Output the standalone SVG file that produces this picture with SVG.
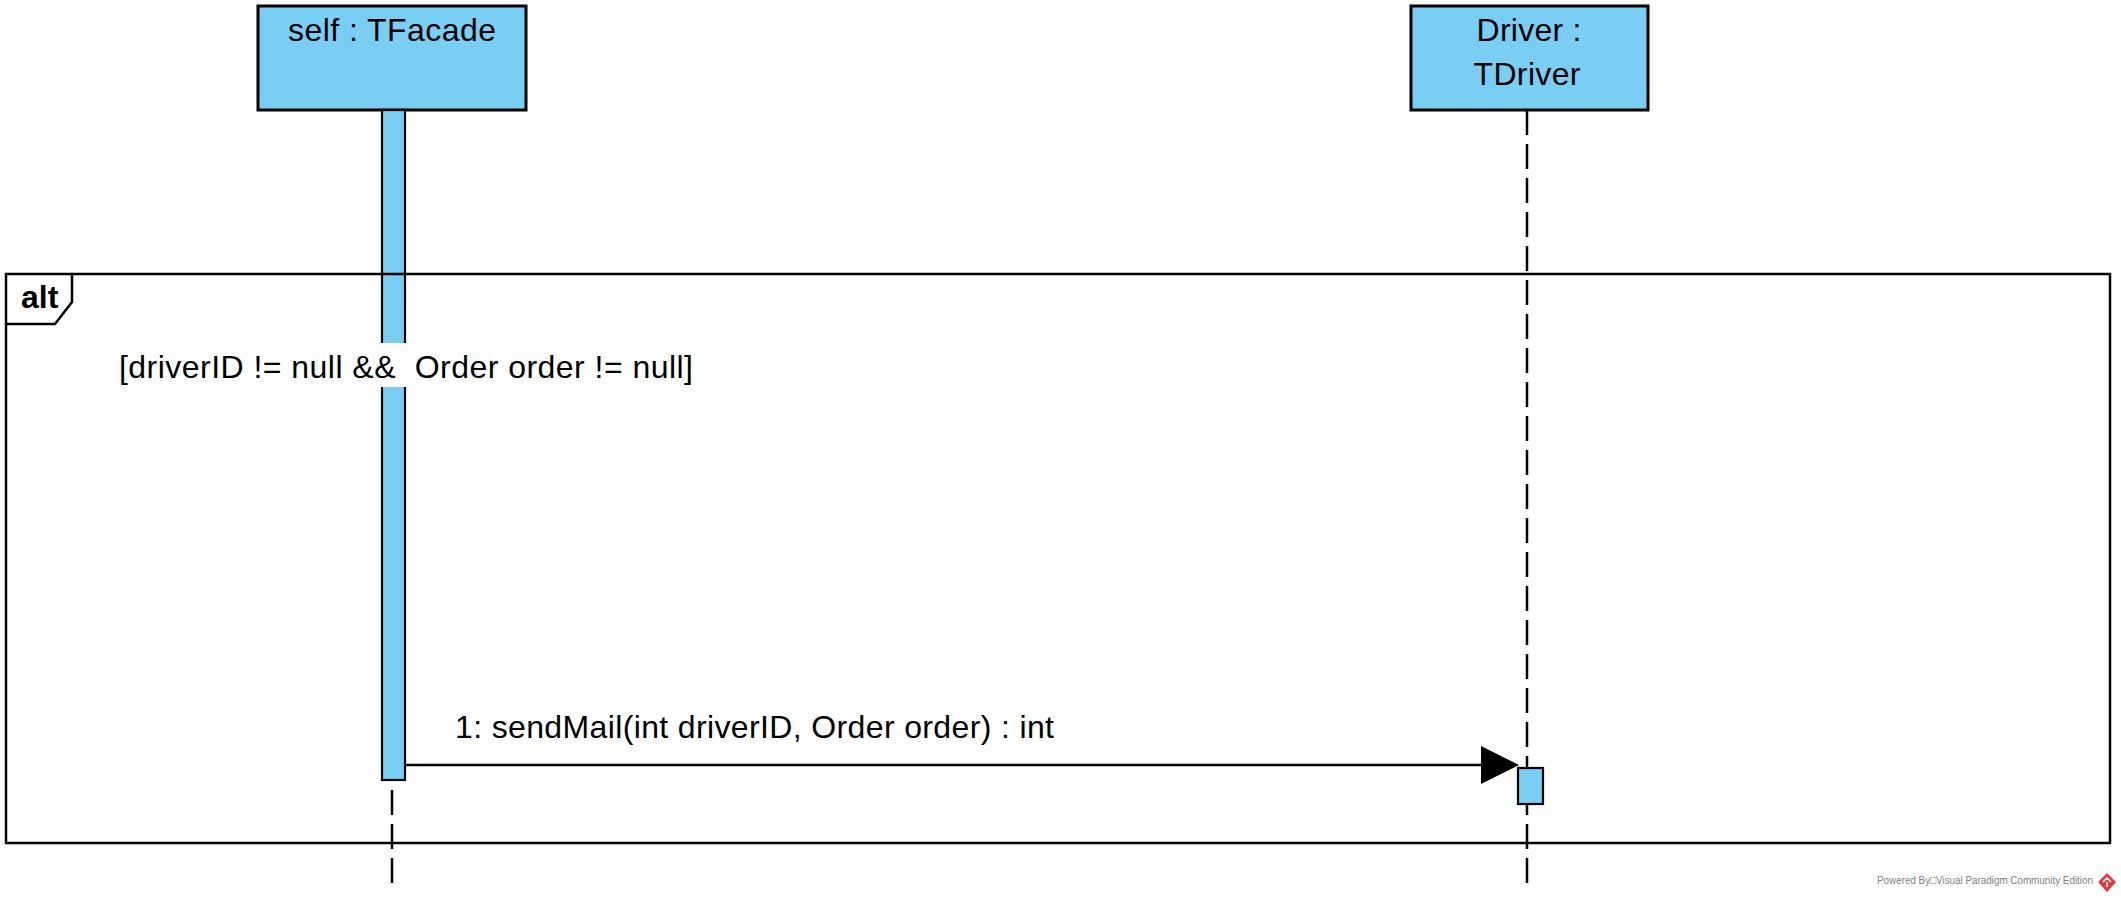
<svg xmlns="http://www.w3.org/2000/svg" width="2121" height="897" viewBox="0 0 2121 897">
<style>
.head{fill:#7ACEF4;stroke:#000;stroke-width:3}
.act{fill:#7ACEF4;stroke:#000;stroke-width:2.2}
.life{stroke:#000;stroke-width:2.5;stroke-dasharray:25 9;fill:none}
.txt{font-family:"Liberation Sans",Arial,sans-serif;font-size:32px;fill:#000}
.frame{fill:none;stroke:#000;stroke-width:2.5}
.msg{stroke:#000;stroke-width:2.5;fill:none}
</style>
<rect width="2121" height="897" fill="#fff"/>
<g id="lifeline-tfacade">
<line class="life" x1="392" y1="110" x2="392" y2="890"/>
<rect class="head" x="258" y="6" width="268" height="104"/>
<text class="txt" x="392" y="41" text-anchor="middle" textLength="208" lengthAdjust="spacing">self : TFacade</text>
<rect class="act" x="382" y="110" width="23" height="670"/>
</g>
<g id="lifeline-tdriver">
<line class="life" x1="1527" y1="110" x2="1527" y2="890"/>
<rect class="head" x="1411" y="6" width="237" height="104"/>
<text class="txt" x="1529" y="41" text-anchor="middle" textLength="105" lengthAdjust="spacing">Driver :</text>
<text class="txt" x="1527" y="85" text-anchor="middle" textLength="107" lengthAdjust="spacing">TDriver</text>
<rect class="act" x="1518" y="768" width="25" height="36"/>
</g>
<g id="frame-alt">
<rect class="frame" x="6" y="274" width="2104" height="569"/>
<path class="frame" d="M6,324 L55,324 L72,302 L72,274"/>
<text x="21" y="308" font-family="Liberation Sans,Arial,sans-serif" font-size="32" font-weight="bold">alt</text>
<rect x="119" y="343" width="574" height="44" fill="#fff"/>
<text class="txt" x="119" y="378" textLength="574" lengthAdjust="spacing" xml:space="preserve">[driverID != null &amp;&amp;  Order order != null]</text>
</g>
<g id="connectors">
<line class="msg" x1="405" y1="765" x2="1482" y2="765"/>
<polygon points="1481,746 1519,765 1481,784" fill="#000"/>
<text class="txt" x="455" y="738" textLength="599" lengthAdjust="spacing">1: sendMail(int driverID, Order order) : int</text>
</g>
<g id="footer">
<text x="1877" y="884" font-family="Liberation Sans,Arial,sans-serif" font-size="10.5" fill="#808080" textLength="216" lengthAdjust="spacingAndGlyphs">Powered By□Visual Paradigm Community Edition</text>
<polygon points="2107,873 2116,882 2107,892 2098,882" fill="#E0393E"/>
<path d="M2103,882 L2107,878 L2111,882 M2107,882 L2107,887" stroke="#fff" stroke-width="1.6" fill="none"/>
</g>
</svg>
